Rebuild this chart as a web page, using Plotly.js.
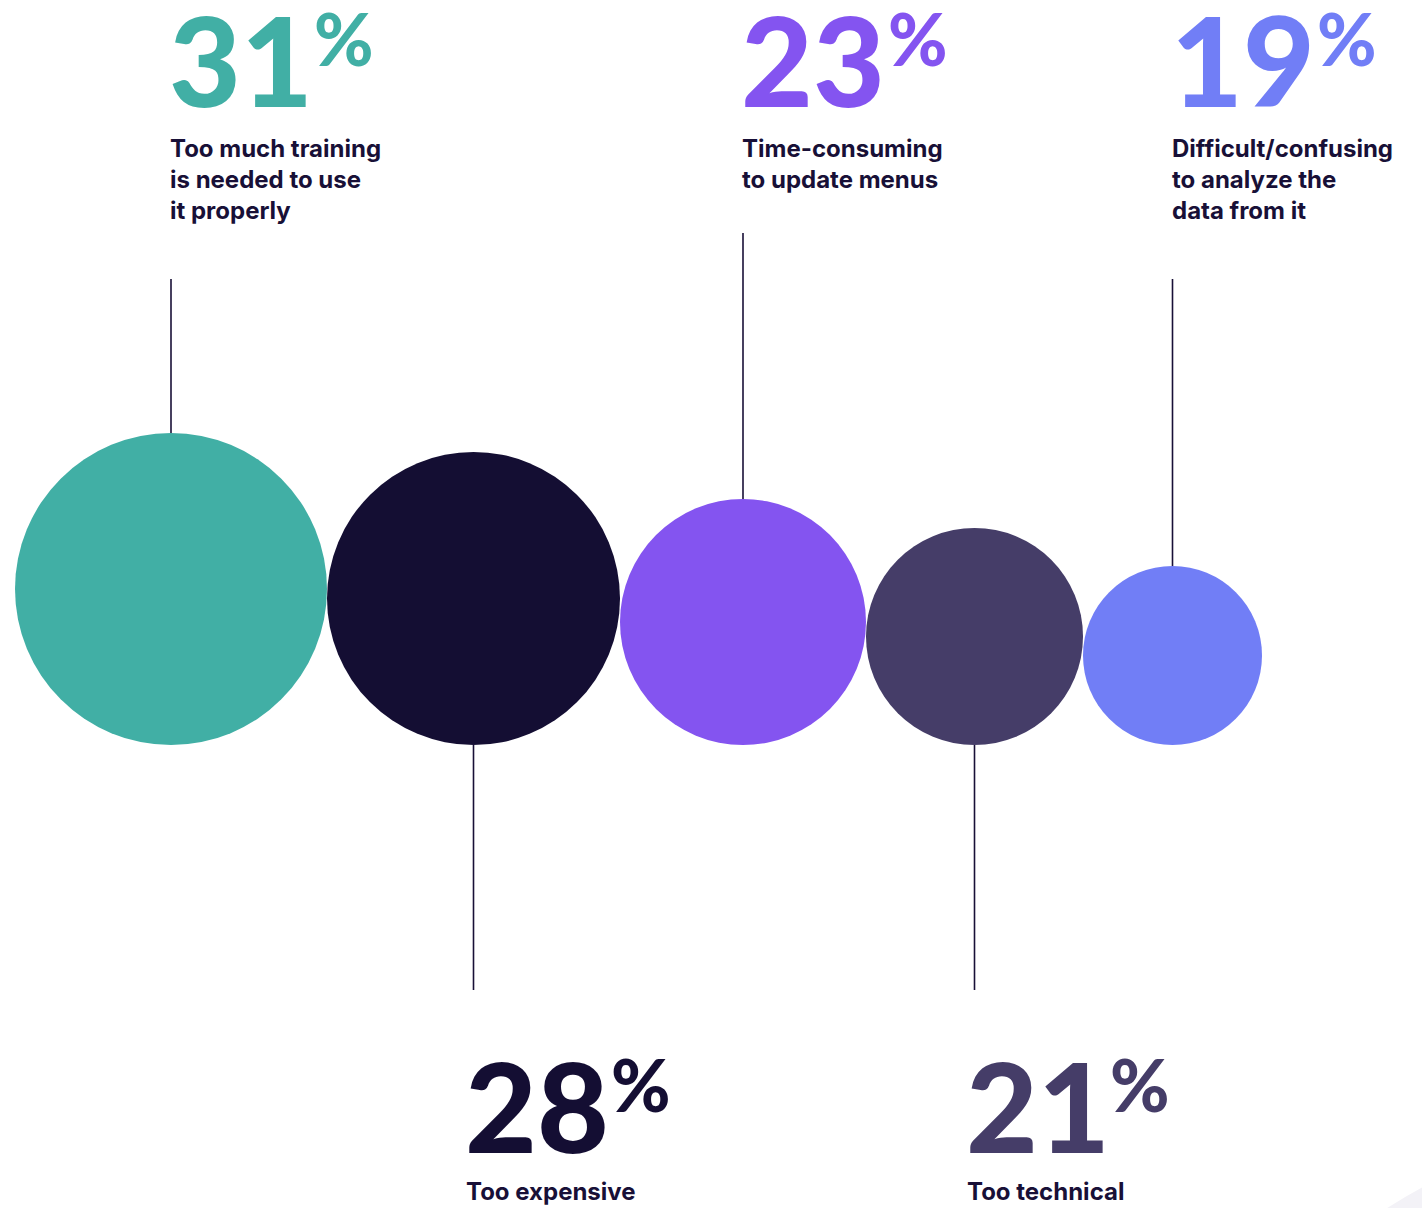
<!DOCTYPE html>
<html><head><meta charset="utf-8">
<script src="https://cdn.plot.ly/plotly-3.0.1.min.js"></script>
<style>html,body{margin:0;padding:0;background:#fff;overflow:hidden}</style>
</head><body><div id="chart" style="width:1422px;height:1208px"></div>
<script>
// ---- data ----
const categories = [
  "Too much training<br>is needed to use<br>it properly",
  "Too expensive",
  "Time-consuming<br>to update menus",
  "Too technical",
  "Difficult/confusing<br>to analyze the<br>data from it"
];
const values = [31, 28, 23, 21, 19];
const colors = ["#41AFA5", "#140E33", "#8454F0", "#453D68", "#717EF6"];

// ---- style / layout ----
const diameters = [312, 293, 246, 217, 179];
const labelSide = ["top", "bottom", "top", "bottom", "top"];
const connectorEnd = [279, 990, 233, 990, 279];
const W = 1422, H = 1208, startX = 15, baseY = 745;
const INK = "#181037";
const NUM_FONT = "Lato", NUM_SIZE = 124, PCT_SIZE = 72;
const DESC_FONT = "Inter", DESC_SIZE = 24;
const D_LATO = 0.213, K_INTER = 0.242;

const cx = []; let acc = startX;
diameters.forEach(d => { cx.push(acc + d / 2); acc += d; });
const cy = diameters.map(d => baseY - d / 2);

const ctx = document.createElement('canvas').getContext('2d');
function textW(t, font) { ctx.font = font; return ctx.measureText(t).width; }

const traces = [];
values.forEach((v, i) => {
  const r = diameters[i] / 2;
  const y0 = labelSide[i] === "top" ? connectorEnd[i] : baseY;
  const y1 = labelSide[i] === "top" ? cy[i] - r : connectorEnd[i];
  traces.push({
    type: "scatter", mode: "lines", x: [cx[i], cx[i]], y: [y0, y1],
    line: { color: INK, width: 1.6 }, hoverinfo: "skip"
  });
});
traces.push({
  type: "scatter", mode: "markers", x: cx, y: cy,
  marker: { size: diameters, sizemode: "diameter", color: colors, line: { width: 0 }, opacity: 1 },
  hoverinfo: "skip"
});

const annotations = [];
values.forEach((v, i) => {
  const top = labelSide[i] === "top";
  const textX = cx[i] + (top ? -1 : -8);
  const numBase = top ? 107 : 1153;
  const pctBase = top ? 66 : 1112;
  const descTop = top ? 140 : 1183;
  const numX = textX - 3;
  const digits = String(v);
  const dw = textW(digits, `900 ${NUM_SIZE}px ${NUM_FONT}`);
  const gap = digits.endsWith("1") ? 1 : 3;
  annotations.push({
    x: numX, y: numBase + D_LATO * NUM_SIZE + 2, xref: "x", yref: "y",
    xanchor: "left", yanchor: "bottom", showarrow: false, text: digits,
    font: { family: NUM_FONT, size: NUM_SIZE, color: colors[i], weight: 900 }
  });
  annotations.push({
    x: numX + dw + gap, y: pctBase + D_LATO * PCT_SIZE + 2, xref: "x", yref: "y",
    xanchor: "left", yanchor: "bottom", showarrow: false, text: "%",
    font: { family: NUM_FONT, size: PCT_SIZE, color: colors[i], weight: 900 }
  });
  annotations.push({
    x: textX - 2, y: descTop - K_INTER * DESC_SIZE - 2, xref: "x", yref: "y",
    xanchor: "left", yanchor: "top", align: "left", showarrow: false, text: categories[i],
    font: { family: DESC_FONT, size: DESC_SIZE, color: INK, weight: 700 }
  });
});

const layout = {
  width: W, height: H, margin: { l: 0, r: 0, t: 0, b: 0 },
  paper_bgcolor: "#ffffff", plot_bgcolor: "#ffffff",
  xaxis: { range: [0, W], visible: false, fixedrange: true },
  yaxis: { range: [H, 0], visible: false, fixedrange: true },
  showlegend: false, hovermode: false,
  shapes: [{
    type: "circle", xref: "x", yref: "y", layer: "below",
    x0: 1117, x1: 2283, y0: 1117, y1: 2283,
    fillcolor: "#F3F2F7", line: { width: 0 }
  }],
  annotations: annotations
};
Plotly.newPlot("chart", traces, layout, { staticPlot: true, displayModeBar: false });
</script></body></html>
